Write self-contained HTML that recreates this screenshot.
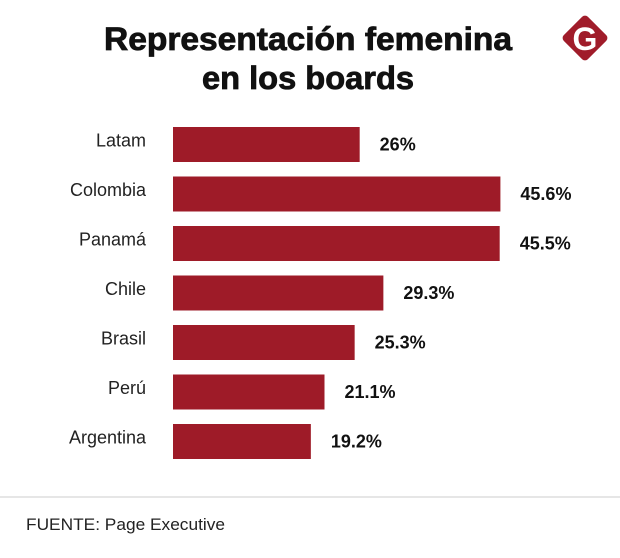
<!DOCTYPE html>
<html><head><meta charset="utf-8"><style>
html,body{margin:0;padding:0;background:#fff;}
svg{display:block;font-family:"Liberation Sans",sans-serif;}
</style></head><body>
<svg id="chart" width="620" height="558" viewBox="0 0 620 558">
<rect width="620" height="558" fill="#fff"/>
<text x="308" y="50" text-anchor="middle" font-size="32" font-weight="bold" fill="#111" stroke="#111" stroke-width="0.8" textLength="408" lengthAdjust="spacingAndGlyphs">Representación femenina</text>
<text x="308" y="89" text-anchor="middle" font-size="32" font-weight="bold" fill="#111" stroke="#111" stroke-width="0.8" textLength="212" lengthAdjust="spacingAndGlyphs">en los boards</text>
<g>
<rect x="568" y="21" width="34" height="34" rx="4" transform="rotate(45 585 38)" fill="#a01c2a"/>
<text x="585" y="50" text-anchor="middle" font-size="32" font-weight="bold" fill="#fff" font-family="Liberation Sans,sans-serif">G</text>
</g>
<g id="bars"></g>
<line x1="0" y1="497" x2="620" y2="497" stroke="#e6e6e6" stroke-width="2"/>
<text x="26" y="530" font-size="17" fill="#222" textLength="199" lengthAdjust="spacingAndGlyphs">FUENTE: Page Executive</text>
</svg>
<script>
const categories = ["Latam","Colombia","Panamá","Chile","Brasil","Perú","Argentina"];
const values = [26,45.6,45.5,29.3,25.3,21.1,19.2];
const valueLabels = ["26%","45.6%","45.5%","29.3%","25.3%","21.1%","19.2%"];
const NS="http://www.w3.org/2000/svg";
const g=document.getElementById('bars');
const x0=173, pxPer=7.18;
function xScale(v){return x0+v*pxPer;}
function yScale(i){return 127+i*49.5;}
const bh=35;
categories.forEach((c,i)=>{
  const y=yScale(i);
  const r=document.createElementNS(NS,'rect');
  r.setAttribute('x',x0);r.setAttribute('y',y);
  r.setAttribute('width',xScale(values[i])-x0);r.setAttribute('height',bh);
  r.setAttribute('fill','#9e1b28');
  
  
  g.appendChild(r);
  const t=document.createElementNS(NS,'text');
  t.setAttribute('x',146);t.setAttribute('y',y+bh/2+2);
  t.setAttribute('text-anchor','end');t.setAttribute('font-size','18');t.setAttribute('fill','#222');
  t.textContent=c;
  
  
  g.appendChild(t);
  const v=document.createElementNS(NS,'text');
  v.setAttribute('x',xScale(values[i])+20);v.setAttribute('y',y+bh/2+6);
  v.setAttribute('font-size','18');v.setAttribute('font-weight','bold');v.setAttribute('fill','#111');
  v.textContent=valueLabels[i];
  
  
  g.appendChild(v);
});
</script>
</body></html>
